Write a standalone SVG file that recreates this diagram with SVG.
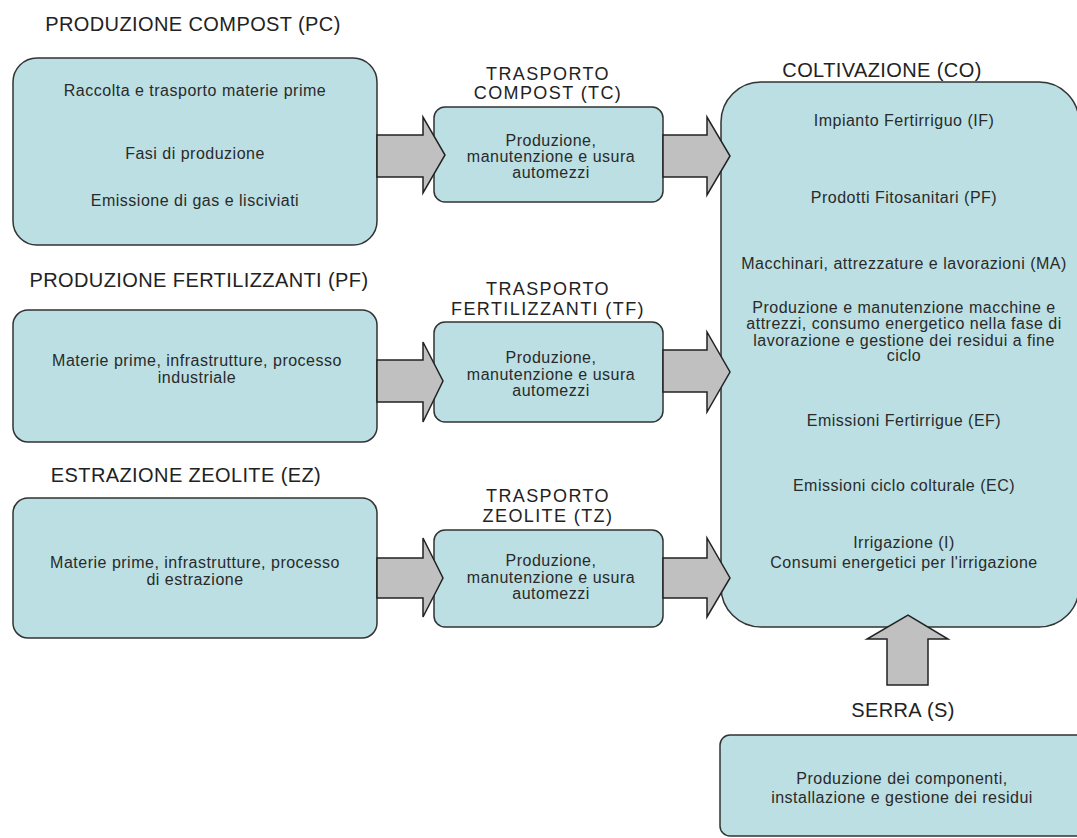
<svg xmlns="http://www.w3.org/2000/svg" width="1077" height="838" viewBox="0 0 1077 838">
<style>
.box{fill:#bbdfe2;stroke:#333;stroke-width:1.5}
.arr{fill:#c0c0c0;stroke:#222;stroke-width:1.5;stroke-linejoin:miter}
.t{font-family:"Liberation Sans",Arial,sans-serif;font-size:16px;fill:#2a2a2a;text-anchor:middle;letter-spacing:0.5px}
.h{font-family:"Liberation Sans",Arial,sans-serif;font-size:20px;fill:#222;text-anchor:middle;letter-spacing:0.4px}
.h2{font-family:"Liberation Sans",Arial,sans-serif;font-size:18px;fill:#222;text-anchor:middle;letter-spacing:1.4px}
</style>
<rect width="1077" height="838" fill="#ffffff"/>
<g id="PC">
<text class="h" x="193" y="31">PRODUZIONE COMPOST (PC)</text>
<rect class="box" x="13" y="58" width="364" height="187" rx="24"/>
<text class="t" x="195" y="96">Raccolta e trasporto materie prime</text>
<text class="t" x="195" y="159">Fasi di produzione</text>
<text class="t" x="195" y="206">Emissione di gas e lisciviati</text>
</g>
<g id="PF">
<text class="h" x="199" y="287">PRODUZIONE FERTILIZZANTI (PF)</text>
<rect class="box" x="13" y="310" width="364" height="132" rx="15"/>
<text class="t" x="197" y="366">Materie prime, infrastrutture, processo</text>
<text class="t" x="197" y="383">industriale</text>
</g>
<g id="EZ">
<text class="h" x="186" y="482">ESTRAZIONE ZEOLITE (EZ)</text>
<rect class="box" x="13" y="498" width="364" height="140" rx="15"/>
<text class="t" x="195" y="568">Materie prime, infrastrutture, processo</text>
<text class="t" x="195" y="585">di estrazione</text>
</g>
<g id="TC">
<text class="h2" x="548" y="80">TRASPORTO</text>
<text class="h2" x="548" y="99">COMPOST (TC)</text>
<rect class="box" x="434" y="107" width="229" height="95" rx="11"/>
<text class="t" x="551" y="146">Produzione,</text>
<text class="t" x="551" y="162">manutenzione e usura</text>
<text class="t" x="551" y="178">automezzi</text>
</g>
<g id="TF">
<text class="h2" x="548" y="295">TRASPORTO</text>
<text class="h2" x="548" y="315">FERTILIZZANTI (TF)</text>
<rect class="box" x="434" y="322" width="229" height="100" rx="11"/>
<text class="t" x="551" y="363">Produzione,</text>
<text class="t" x="551" y="380">manutenzione e usura</text>
<text class="t" x="551" y="396">automezzi</text>
</g>
<g id="TZ">
<text class="h2" x="548" y="502">TRASPORTO</text>
<text class="h2" x="548" y="522">ZEOLITE (TZ)</text>
<rect class="box" x="434" y="530" width="229" height="97" rx="11"/>
<text class="t" x="551" y="566">Produzione,</text>
<text class="t" x="551" y="583">manutenzione e usura</text>
<text class="t" x="551" y="599">automezzi</text>
</g>
<g id="CO">
<text class="h" x="882" y="77">COLTIVAZIONE (CO)</text>
<rect class="box" x="721" y="82" width="358" height="545" rx="40"/>
<text class="t" x="904" y="126">Impianto Fertirriguo (IF)</text>
<text class="t" x="904" y="203">Prodotti Fitosanitari (PF)</text>
<text class="t" x="904" y="269">Macchinari, attrezzature e lavorazioni (MA)</text>
<text class="t" x="904" y="313">Produzione e manutenzione macchine e</text>
<text class="t" x="904" y="329">attrezzi, consumo energetico nella fase di</text>
<text class="t" x="904" y="346">lavorazione e gestione dei residui a fine</text>
<text class="t" x="904" y="361">ciclo</text>
<text class="t" x="904" y="426">Emissioni Fertirrigue (EF)</text>
<text class="t" x="904" y="491">Emissioni ciclo colturale (EC)</text>
<text class="t" x="904" y="548">Irrigazione (I)</text>
<text class="t" x="904" y="568">Consumi energetici per l'irrigazione</text>
</g>
<g id="S">
<text class="h" x="903" y="717">SERRA (S)</text>
<rect class="box" x="720" y="735" width="380" height="101" rx="10"/>
<text class="t" x="902" y="784">Produzione dei componenti,</text>
<text class="t" x="902" y="803">installazione e gestione dei residui</text>
</g>
<g id="connectors">
<polygon class="arr" points="377,135 423,135 423,117 445,155 423,193 423,177 377,177"/>
<polygon class="arr" points="663,135 707,135 707,117 730,156 707,195 707,177 663,177"/>
<polygon class="arr" points="377,360 423,360 423,342 443,381 423,422 423,402 377,402"/>
<polygon class="arr" points="663,350 707,350 707,332 730,372 707,412 707,392 663,392"/>
<polygon class="arr" points="377,558 423,558 423,538 443,578 423,617 423,598 377,598"/>
<polygon class="arr" points="663,558 707,558 707,538 730,578 707,617 707,598 663,598"/>
<polygon class="arr" points="887,685 887,639 867,639 908,615 948,639 928,639 928,685"/>
</g>
</svg>
